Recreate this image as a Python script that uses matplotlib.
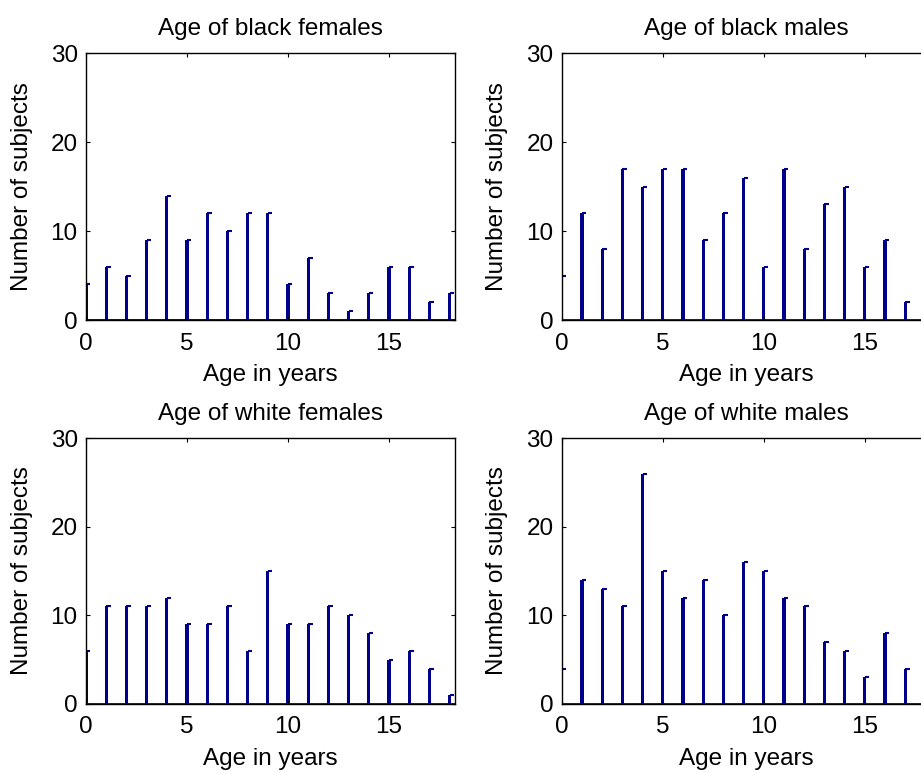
import numpy as np
import matplotlib.pyplot as plt

plt.rcParams['font.family'] = ['Liberation Sans', 'DejaVu Sans']

ages = np.arange(0, 19)
black_females = [4, 6, 5, 9, 14, 9, 12, 10, 12, 12, 4, 7, 3, 1, 3, 6, 6, 2, 3]
black_males = [5, 12, 8, 17, 15, 17, 17, 9, 12, 16, 6, 17, 8, 13, 15, 6, 9, 2, 0]
white_females = [6, 11, 11, 11, 12, 9, 9, 11, 6, 15, 9, 9, 11, 10, 8, 5, 6, 4, 1]
white_males = [4, 14, 13, 11, 26, 15, 12, 14, 10, 16, 15, 12, 11, 7, 6, 3, 8, 4, 0]

titles = ['Age of black females', 'Age of black males',
          'Age of white females', 'Age of white males']
series = [black_females, black_males, white_females, white_males]
base_cols = ['black', '#00008B', '#00008B', '#00008B']

fig = plt.figure(figsize=(9.21, 7.73), dpi=100)
rects = [[0.0934, 0.586, 0.4007, 0.345],
         [0.610, 0.586, 0.4007, 0.345],
         [0.0934, 0.0893, 0.4007, 0.344],
         [0.610, 0.0893, 0.4007, 0.344]]

fs = 17.5
for r, t, vals, bc in zip(rects, titles, series, base_cols):
    ax = fig.add_axes(r)
    ax.bar(ages, vals, width=0.16, color='#00008B', edgecolor='none', align='center')
    # little cap on top of each bar, like the matlab render
    ax.hlines(vals, ages, ages + 0.22, color='#00008B', lw=1.5)
    ax.axhline(0, color=bc, lw=2, zorder=3)
    ax.set_xlim(0, 18.27)
    ax.set_ylim(0, 30)
    ax.set_xticks([0, 5, 10, 15])
    ax.set_yticks([0, 10, 20, 30])
    ax.tick_params(direction='in', top=True, right=True, labelsize=fs, length=3)
    ax.tick_params(axis='x', pad=9)
    ax.tick_params(axis='y', pad=6)
    ax.set_title(t, fontsize=fs, pad=13)
    ax.set_xlabel('Age in years', fontsize=fs, labelpad=7)
    ax.set_ylabel('Number of subjects', fontsize=fs, labelpad=13)
    for s in ax.spines.values():
        s.set_linewidth(1)

fig.savefig('out.png', dpi=100)
